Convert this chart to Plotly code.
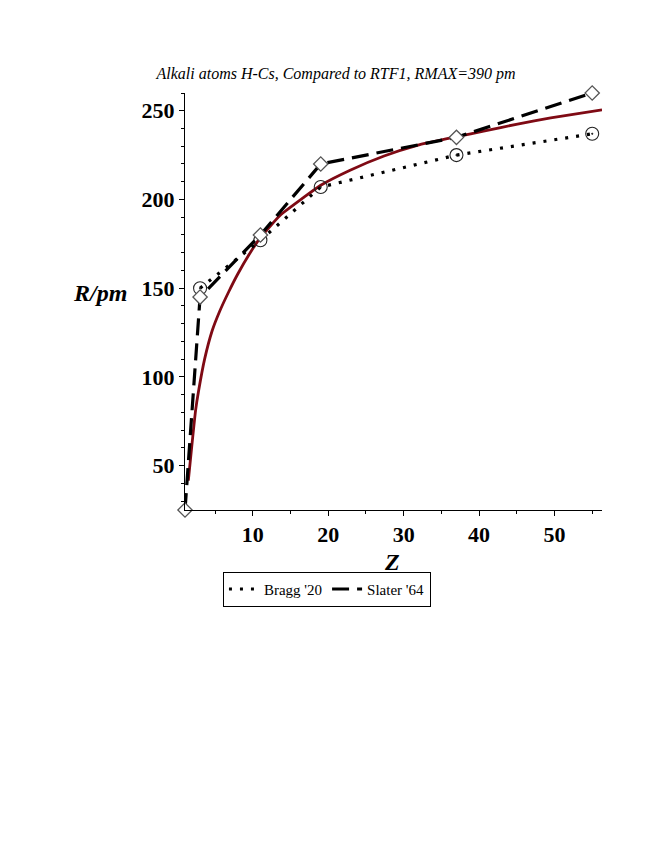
import plotly.graph_objects as go

# ----------------------------------------------------
# Data
# ----------------------------------------------------

bragg_z = [3, 11, 19, 37, 55]
bragg_r = [150, 177, 207, 225, 237]

slater_z = [1, 3, 11, 19, 37, 55]
slater_r = [25, 145, 180, 220, 235, 260]

rtf1_z = [1.44, 1.9, 2.4, 2.8, 3.6, 4.6, 5.6, 6.8, 8.0, 9.5, 11, 13.6,
          16.7, 19, 22.9, 27.4, 31.8, 37.2, 40.6, 45.1, 49.5, 56.3]
rtf1_r = [41.5, 61, 81, 92, 110, 126, 137, 148, 158, 169, 178.5, 191,
          201, 208, 216.5, 224.5, 230.5, 235.5, 238.5, 242.5, 246, 250.5]

SERIF = "Liberation Serif, Times New Roman, serif"
DOTS = "3px,8px"
DASHES = "17px,8px"

fig = go.Figure()

# ----------------------------------------------------
# RTF1 curve
# ----------------------------------------------------

fig.add_trace(
    go.Scatter(
        x=rtf1_z,
        y=rtf1_r,
        mode="lines",
        line=dict(color="#7f0a14", width=2.8, shape="spline", smoothing=0.5),
        showlegend=False,
        cliponaxis=False,
    )
)

# ----------------------------------------------------
# Bragg '20 and Slater '64
# ----------------------------------------------------

fig.add_trace(
    go.Scatter(
        x=bragg_z,
        y=bragg_r,
        mode="lines+markers",
        line=dict(color="black", width=3.2, dash=DOTS),
        marker=dict(symbol="circle-open-dot", size=13, color="#222222",
                    line=dict(width=1.1)),
        showlegend=False,
        cliponaxis=False,
    )
)

fig.add_trace(
    go.Scatter(
        x=slater_z,
        y=slater_r,
        mode="lines+markers",
        line=dict(color="black", width=3.2, dash=DASHES),
        marker=dict(symbol="diamond", size=11, color="white",
                    line=dict(color="#555555", width=1.3)),
        showlegend=False,
        cliponaxis=False,
    )
)

# legend-only entries (lines without symbols, as in the original)
fig.add_trace(go.Scatter(x=[None], y=[None], mode="lines", name="Bragg '20",
                         line=dict(color="black", width=3, dash=DOTS)))
fig.add_trace(go.Scatter(x=[None], y=[None], mode="lines", name="Slater '64",
                         line=dict(color="black", width=3, dash=DASHES)))

# ----------------------------------------------------
# Layout
# ----------------------------------------------------

fig.update_layout(
    width=664,
    height=860,
    paper_bgcolor="white",
    plot_bgcolor="white",
    margin=dict(l=177, r=70, t=85, b=358),
    title=dict(
        text="Alkali atoms H-Cs, Compared to RTF1, RMAX=390 pm",
        font=dict(family=SERIF, size=16, color="black", style="italic"),
        xref="container", x=0.494, xanchor="center",
        yref="container", y=0.924, yanchor="middle",
    ),
    legend=dict(
        orientation="h",
        xanchor="left", x=0.091,
        yanchor="top", y=-0.148,
        bordercolor="black", borderwidth=1,
        font=dict(family=SERIF, size=15, color="black"),
        itemwidth=30,
        tracegroupgap=0,
    ),
    annotations=[
        dict(text="<b><i>R/pm</i></b>", xref="paper", yref="paper",
             x=-0.204, y=0.52, xanchor="center", yanchor="middle",
             showarrow=False,
             font=dict(family=SERIF, size=24, color="black")),
        dict(text="<b><i>Z</i></b>", xref="paper", yref="paper",
             x=0.496, y=-0.124, xanchor="center", yanchor="middle",
             showarrow=False,
             font=dict(family=SERIF, size=24, color="black")),
    ],
)

fig.update_xaxes(
    range=[1, 56.3],
    showgrid=False, zeroline=False,
    showline=True, linecolor="black", linewidth=1,
    ticks="outside", ticklen=5, tickcolor="black",
    tick0=0, dtick=10,
    minor=dict(ticks="outside", ticklen=3, dtick=5, tickcolor="black"),
    tickfont=dict(family=SERIF, size=22, color="black", weight="bold"),
)

fig.update_yaxes(
    range=[25, 260],
    showgrid=False, zeroline=False,
    showline=True, linecolor="black", linewidth=1,
    ticks="outside", ticklen=5, tickcolor="black",
    tick0=0, dtick=50,
    minor=dict(ticks="outside", ticklen=3, dtick=10, tickcolor="black"),
    tickfont=dict(family=SERIF, size=22, color="black", weight="bold"),
)

fig.write_html("out.html")
